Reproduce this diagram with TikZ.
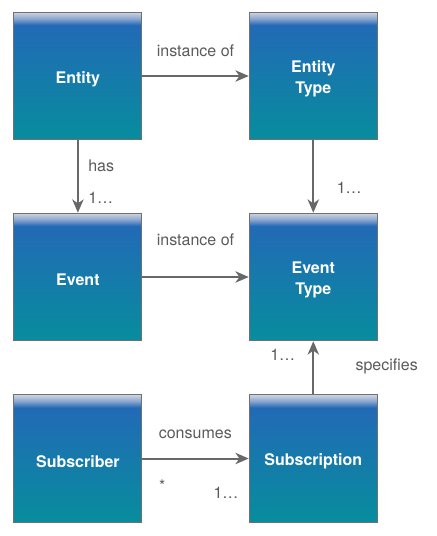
\documentclass[tikz,border=0pt]{standalone}
\usepackage{fontspec}
\setmainfont{TeX Gyre Heros}
\usetikzlibrary{arrows.meta}
\definecolor{bLight}{HTML}{CDD4E0}
\definecolor{bMid}{HTML}{8AA6CF}
\definecolor{bBlue}{HTML}{226AB6}
\definecolor{bTeal}{HTML}{078D9D}
\definecolor{edgeGray}{HTML}{707070}
\definecolor{lineGray}{HTML}{686868}
\definecolor{textGray}{HTML}{5A5A5A}
\pgfdeclareverticalshading{boxgrad}{100bp}{color(0bp)=(bTeal); color(25bp)=(bTeal); color(70bp)=(bBlue); color(72.5bp)=(bMid); color(75bp)=(bLight); color(100bp)=(bLight)}
\tikzset{
  entbox/.style={draw=edgeGray, line width=0.8pt, shading=boxgrad, minimum width=96pt, minimum height=95.6pt, inner sep=0pt},
  boxtext/.style={text=white, font=\fontsize{12}{15.75}\selectfont\bfseries, align=center, inner sep=0pt, yshift=-2.4pt},
  conn/.style={draw=lineGray, line width=1.5pt, -{Stealth[length=10pt, width=8.5pt, inset=3pt]}},
  lbl/.style={text=textGray, font=\fontsize{12}{14}\selectfont, inner sep=0pt}
}
\begin{document}
\begin{tikzpicture}[x=0.75pt, y=-0.75pt]
\useasboundingbox (0,0) rectangle (436,536);
\node[entbox] (entity) at (77.9,76) {};
\node[entbox] (etype) at (313.3,76) {};
\node[entbox] (event) at (77.9,277) {};
\node[entbox] (evtype) at (313.3,277) {};
\node[entbox] (subscriber) at (77.9,458.5) {};
\node[entbox] (subscription) at (313.3,458.5) {};

\node[boxtext] (entity-t) at (entity.center) {Entity};
\node[boxtext] (etype-t) at (etype.center) {Entity\\Type};
\node[boxtext] (event-t) at (event.center) {Event};
\node[boxtext] (evtype-t) at (evtype.center) {Event\\Type};
\node[boxtext] (subscriber-t) at (subscriber.center) {Subscriber};
\node[boxtext] (subscription-t) at (subscription.center) {Subscription};

\draw[conn] (entity) -- (etype);
\draw[conn] (entity) -- (event);
\draw[conn] (etype) -- (evtype);
\draw[conn] (event) -- (evtype);
\draw[conn] (subscription) -- (evtype);
\draw[conn] (subscriber) -- (subscription);

\node[lbl] (l1) at (195.5,51) {instance of};
\node[lbl] (l2) at (195.5,240) {instance of};
\node[lbl, anchor=west] (l3) at (88,166) {has};
\node[lbl, anchor=west] (l4) at (88,198) {1\dots};
\node[lbl, anchor=west] (l5) at (336.5,188) {1\dots};
\node[lbl, anchor=west] (l6) at (270,355) {1\dots};
\node[lbl] (l7) at (386.7,366) {specifies};
\node[lbl] (l8) at (195.3,434) {consumes};
\node[lbl] (l9) at (162.3,486) {*};
\node[lbl, anchor=west] (l10) at (213.3,492.5) {1\dots};
\end{tikzpicture}
\end{document}
